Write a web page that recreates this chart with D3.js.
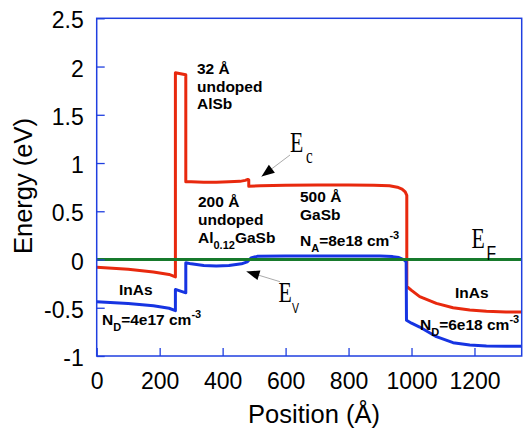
<!DOCTYPE html>
<html>
<head>
<meta charset="utf-8">
<script src="https://cdn.jsdelivr.net/npm/d3@7"></script>
<style>
  html, body { margin: 0; padding: 0; background: #fff; }
  svg { display: block; font-family: "Liberation Sans", Arial, sans-serif; }
</style>
</head>
<body>
<svg id="chart" width="525" height="432"></svg>
<script>
// ---- data ----
const xTicks = [0, 200, 400, 600, 800, 1000, 1200];
const yTicks = [-1, -0.5, 0, 0.5, 1, 1.5, 2, 2.5];

// Conduction band edge Ec (eV) vs position (Å)
const ecPos = [0, 100, 180, 230, 250, 250, 283, 283, 300, 340, 380, 420, 455, 472, 480, 483, 483,
  520, 600, 700, 800, 880, 930, 955, 970, 980, 985, 985, 1000, 1026, 1079, 1132, 1185, 1238, 1300, 1350];
const ecVal = [-0.08, -0.10, -0.13, -0.155, -0.18, 1.935, 1.915, 0.805, 0.805, 0.80, 0.80, 0.805, 0.81, 0.82, 0.83, 0.826, 0.76,
  0.765, 0.77, 0.772, 0.772, 0.77, 0.765, 0.75, 0.73, 0.70, 0.665, -0.28, -0.32, -0.385, -0.455, -0.50, -0.523, -0.535, -0.543, -0.545];

// Valence band edge Ev (eV) vs position (Å)
const evPos = [0, 100, 180, 230, 250, 250, 283, 283, 300, 340, 380, 420, 460, 478, 490, 510,
  600, 700, 800, 900, 940, 960, 975, 983, 984, 1000, 1026, 1079, 1132, 1185, 1238, 1300, 1350];
const evVal = [-0.437, -0.455, -0.48, -0.505, -0.53, -0.31, -0.345, -0.033, -0.045, -0.062, -0.068, -0.062, -0.045, -0.025, 0.015, 0.033,
  0.036, 0.037, 0.037, 0.036, 0.03, 0.02, 0.0, -0.025, -0.63, -0.66, -0.70, -0.80, -0.862, -0.886, -0.896, -0.90, -0.90];

// Fermi level EF
const efPos = [0, 1350];
const efVal = [0, 0];

// ---- layout ----
const svg = d3.select("#chart");
const L = 96.7, R = 521.7, T = 18.3, B = 356;
const x = d3.scaleLinear().domain([0, 1350]).range([L, R]);
const y = d3.scaleLinear().domain([-1, 2.5]).range([B, T]);

const axisBlue = "#1f3fe0";
const red = "#e8290e", blue = "#1634e2", green = "#177a2c";

// curves
function drawCurve(pos, val, color, w) {
  const line = d3.line().x(i => x(pos[i])).y(i => y(val[i])).curve(d3.curveLinear);
  svg.append("path").attr("d", line(d3.range(pos.length)))
    .attr("fill", "none").attr("stroke", color).attr("stroke-width", w)
    .attr("stroke-linejoin", "round").attr("stroke-linecap", "butt");
}
drawCurve(ecPos, ecVal, red, 3);
drawCurve(evPos, evVal, blue, 3);
drawCurve(efPos, efVal, green, 3);

// axes
const fmt = d => String(d);
const gx = svg.append("g").attr("transform", `translate(0,${B})`)
  .call(d3.axisBottom(x).tickValues(xTicks).tickSize(-8).tickPadding(17).tickFormat(fmt));
const gy = svg.append("g").attr("transform", `translate(${L},0)`)
  .call(d3.axisLeft(y).tickValues(yTicks).tickSize(-8).tickPadding(13).tickFormat(fmt));
[gx, gy].forEach(g => {
  g.select(".domain").remove();
  g.selectAll(".tick line").attr("stroke", axisBlue).attr("stroke-width", 1.3);
  g.selectAll(".tick text").attr("fill", "#000").attr("font-size", 23)
    .attr("font-family", "Liberation Sans, Arial, sans-serif");
});
gy.selectAll(".tick text").attr("dy", "0.42em");

svg.append("rect").attr("x", L).attr("y", T).attr("width", R - L).attr("height", B - T)
  .attr("fill", "none").attr("stroke", axisBlue).attr("stroke-width", 1.5);

// axis titles
svg.append("text").attr("x", 314).attr("y", 422.5).attr("text-anchor", "middle")
  .attr("font-size", 25.5).text("Position (Å)");
svg.append("text").attr("transform", "translate(31.5,186) rotate(-90)").attr("text-anchor", "middle")
  .attr("font-size", 25.5).text("Energy (eV)");

// annotations (bold)
const ann = svg.append("g").attr("font-weight", "bold").attr("font-size", 15.5).attr("fill", "#000");
function lines(x0, y0, arr, dy) {
  arr.forEach((s, i) => ann.append("text").attr("x", x0).attr("y", y0 + i * dy).text(s));
}
lines(197, 74, ["32 Å", "undoped", "AlSb"], 17.5);
lines(198, 207, ["200 Å", "undoped"], 18);
lines(300, 202, ["500 Å", "GaSb"], 17.5);

function rich(x0, y0, parts) {
  const t = ann.append("text").attr("x", x0).attr("y", y0);
  parts.forEach(p => {
    const ts = t.append("tspan").text(p.t);
    if (p.sub) ts.attr("font-size", 11).attr("dy", 6);
    else if (p.sup) ts.attr("font-size", 11).attr("dy", -7);
    else if (p.back) ts.attr("dy", p.back);
  });
}
rich(198, 243, [{t: "Al"}, {t: "0.12", sub: true}, {t: "GaSb", back: -6}]);
rich(300, 246, [{t: "N"}, {t: "A", sub: true}, {t: "=8e18 cm", back: -6}, {t: "-3", sup: true}]);
ann.append("text").attr("x", 119).attr("y", 295).text("InAs");
rich(102, 325, [{t: "N"}, {t: "D", sub: true}, {t: "=4e17 cm", back: -6}, {t: "-3", sup: true}]);
ann.append("text").attr("x", 455).attr("y", 298).text("InAs");
rich(420, 330, [{t: "N"}, {t: "D", sub: true}, {t: "=6e18 cm", back: -6}, {t: "-3", sup: true}]);

// band labels with arrows
function bandLabel(ex, ey, sub, subSize, subDx, subDy, subSerif) {
  const g = svg.append("g").attr("transform", `translate(${ex},${ey}) scale(0.75,1)`);
  g.append("text").attr("x", 0).attr("y", 0).attr("font-family", "Liberation Serif, Times New Roman, serif")
    .attr("font-size", 29).text("E");
  g.append("text").attr("x", subDx / 0.75).attr("y", subDy)
    .attr("font-family", subSerif ? "Liberation Serif, serif" : "Liberation Sans, Arial, sans-serif")
    .attr("font-size", subSize).text(sub);
}
bandLabel(290, 152, "c", 20, 16, 11, true);
bandLabel(278.5, 301.7, "V", 14, 13.5, 11.5, false);
bandLabel(471.5, 247.7, "F", 21, 15, 12.5, false);

function arrow(x1, y1, x2, y2) {
  svg.append("line").attr("x1", x1).attr("y1", y1).attr("x2", x2).attr("y2", y2)
    .attr("stroke", "#aaa").attr("stroke-width", 1);
  const a = Math.atan2(y2 - y1, x2 - x1);
  const len = 13, half = 5;
  const bx = x2 - len * Math.cos(a), by = y2 - len * Math.sin(a);
  const px = -Math.sin(a) * half, py = Math.cos(a) * half;
  svg.append("path").attr("d", `M${x2},${y2}L${bx + px},${by + py}L${bx - px},${by - py}Z`).attr("fill", "#000");
}
arrow(290, 155, 261.5, 176.5);
arrow(280, 281.7, 246.5, 271.5);
</script>
</body>
</html>
